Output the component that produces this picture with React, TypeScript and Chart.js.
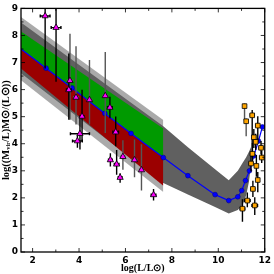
import React, { useEffect, useRef } from 'react';
import { Chart, registerables } from 'chart.js';
Chart.register(...registerables);

// Model (blue) curve
const modelX = [1.5, 2.58, 3.7, 5.11, 6.24, 7.63, 8.69, 9.86, 10.45, 10.84, 11.01, 11.17, 11.34, 11.53, 11.73, 11.9];
const modelY = [7.5, 6.79, 6.06, 5.12, 4.38, 3.49, 2.82, 2.12, 1.9, 2.04, 2.27, 2.64, 3.0, 3.55, 4.1, 4.62];

// Left shaded bands (x from 1.5 to 7.63)
const bandX = [1.5, 7.63];
const lightHigh = [8.68, 4.88];
const lightLow = [6.35, 2.22];
const greenHigh = [8.15, 4.56];
const redLow = [6.78, 2.45];
const bandMid = [7.5, 3.49];

// Dark gray model band
const darkX = [1.5, 7.63, 8.69, 9.86, 10.45, 10.84, 11.05, 11.2, 11.32, 11.42];
const darkHigh = [8.48, 4.65, 3.87, 3.06, 2.65, 3.0, 3.3, 3.5, 3.7, 3.9];
const darkLow = [6.6, 2.55, 2.12, 1.66, 1.42, 1.55, 1.75, 2.1, 2.6, 3.3];

// Magenta triangles
const magX = [2.54, 3.01, 3.61, 3.56, 3.87, 4.45, 4.13, 4.04, 3.93, 5.13, 5.33, 5.58, 5.35, 5.62, 5.89, 5.77, 6.39, 6.69, 7.21];
const magY = [8.72, 8.29, 6.33, 5.99, 5.71, 5.62, 5.01, 4.37, 4.1, 5.77, 5.34, 4.43, 3.4, 3.24, 3.52, 2.75, 3.4, 3.03, 2.11];
const magUp = [1.0, 1.0, 1.73, 1.34, 1.89, 1.47, 0.98, 0.64, 0.2, 1.62, 0.4, 0.58, 0.25, 0.53, 0.61, 0.16, 0.76, 0.95, 0.22];
const magDown = [1.94, 2.0, 1.44, 1.1, 1.0, 0.91, 0.9, 0.58, 0.25, 1.37, 0.4, 0.52, 0.24, 0.39, 0.48, 0.19, 0.64, 0.76, 0.21];
const magXErr = [0.21, 0.21, 0.12, 0.1, 0.1, 0.1, 0.08, 0.41, 0.21, 0.1, 0.1, 0.12, 0.08, 0.1, 0.08, 0.08, 0.1, 0.08, 0.1];
const magBarGray = [0, 0, 1, 0, 1, 1, 0, 0, 0, 1, 0, 0, 0, 0, 1, 0, 1, 1, 0];

// Orange squares
const orgX = [11.13, 11.2, 11.46, 11.7, 11.53, 11.84, 11.61, 11.47, 11.87, 11.64, 11.41, 11.7, 11.49, 11.25, 11.57, 11.04];
const orgY = [5.39, 4.83, 5.05, 4.67, 4.24, 3.85, 4.07, 3.63, 3.49, 3.18, 3.27, 2.66, 2.33, 1.9, 1.72, 1.6];
const orgUp = [0.1, 0.1, 0.2, 0.35, 0.3, 0.25, 0.3, 0.4, 0.25, 0.4, 0.3, 0.3, 0.3, 0.3, 0.3, 0.35];
const orgDown = [0.55, 0.55, 1.5, 0.6, 0.4, 0.25, 0.3, 0.3, 0.2, 0.4, 0.3, 0.45, 0.3, 0.25, 0.35, 0.48];
const orgXErr = [0, 0, 0.08, 0.08, 0, 0.08, 0, 0.08, 0.08, 0, 0.08, 0, 0.08, 0.12, 0.12, 0.1];
const orgBarGray = [1, 1, 0, 0, 0, 0, 0, 0, 0, 0, 0, 0, 0, 0, 0, 0];

const xTicks = [2, 4, 6, 8, 10, 12];
const yTicks = [0, 1, 2, 3, 4, 5, 6, 7, 8, 9];

const pts = (xs: number[], ys: number[]) => xs.map((x, i) => ({ x, y: ys[i] }));

const errorBarPlugin = {
  id: 'errbars',
  beforeDatasetDraw(chart: any, args: any) {
    const ds = chart.data.datasets[args.index] as any;
    const e = ds.errors;
    if (!e) return;
    const { ctx, chartArea, scales } = chart;
    const sx = scales.x, sy = scales.y;
    ctx.save();
    ctx.beginPath();
    ctx.rect(chartArea.left, chartArea.top, chartArea.right - chartArea.left, chartArea.bottom - chartArea.top);
    ctx.clip();
    ctx.lineWidth = 1.4;
    for (let i = 0; i < e.x.length; i++) {
      ctx.strokeStyle = e.gray[i] ? '#555555' : '#000000';
      const px = sx.getPixelForValue(e.x[i]);
      const py = sy.getPixelForValue(e.y[i]);
      const top = sy.getPixelForValue(e.y[i] + e.up[i]);
      const bot = sy.getPixelForValue(e.y[i] - e.down[i]);
      ctx.beginPath();
      ctx.moveTo(px, top);
      ctx.lineTo(px, bot);
      ctx.stroke();
      if (e.xerr[i] > 0) {
        const l = sx.getPixelForValue(e.x[i] - e.xerr[i]);
        const r = sx.getPixelForValue(e.x[i] + e.xerr[i]);
        ctx.beginPath();
        ctx.moveTo(l, py);
        ctx.lineTo(r, py);
        ctx.moveTo(l, py - 1.5);
        ctx.lineTo(l, py + 1.5);
        ctx.moveTo(r, py - 1.5);
        ctx.lineTo(r, py + 1.5);
        ctx.stroke();
      }
    }
    ctx.restore();
  },
};

const framePlugin = {
  id: 'frame',
  afterDraw(chart: any) {
    const { ctx, chartArea: a, scales } = chart;
    const sx = scales.x, sy = scales.y;
    ctx.save();
    ctx.strokeStyle = '#000';
    ctx.lineWidth = 1.3;
    ctx.strokeRect(a.left, a.top, a.right - a.left, a.bottom - a.top);
    ctx.lineWidth = 0.8;
    ctx.beginPath();
    for (let v = 2; v <= 12; v += 1) {
      const px = sx.getPixelForValue(v);
      const len = v % 2 === 0 ? 4 : 2.5;
      ctx.moveTo(px, a.bottom);
      ctx.lineTo(px, a.bottom - len);
      ctx.moveTo(px, a.top);
      ctx.lineTo(px, a.top + len);
    }
    for (let v = 0; v <= 9; v += 0.5) {
      const py = sy.getPixelForValue(v);
      const len = Number.isInteger(v) ? 4 : 2.5;
      ctx.moveTo(a.left, py);
      ctx.lineTo(a.left + len, py);
      ctx.moveTo(a.right, py);
      ctx.lineTo(a.right - len, py);
    }
    ctx.stroke();
    ctx.restore();
  },
};

export default function App() {
  const ref = useRef<HTMLCanvasElement>(null);
  useEffect(() => {
    document.body.style.margin = '0';
    const canvas = ref.current!;
    const tickFont = { family: 'DejaVu Sans', size: 9, weight: 'bold' as const };
    const titleFont = { family: 'Liberation Serif', size: 10, weight: 'bold' as const };
    const chart = new Chart(canvas, {
      type: 'line',
      data: {
        datasets: [
          {
            data: pts(orgX, orgY),
            showLine: false,
            pointStyle: 'rect',
            pointRadius: 3.3,
            pointBackgroundColor: '#ffa500',
            pointBorderColor: '#000',
            pointBorderWidth: 0.8,
            errors: { x: orgX, y: orgY, up: orgUp, down: orgDown, xerr: orgXErr, gray: orgBarGray },
          } as any,
          {
            data: pts(magX, magY),
            showLine: false,
            pointStyle: 'triangle',
            pointRadius: 3.6,
            pointBackgroundColor: '#ff00ff',
            pointBorderColor: '#000',
            pointBorderWidth: 0.8,
            errors: { x: magX, y: magY, up: magUp, down: magDown, xerr: magXErr, gray: magBarGray },
          } as any,
          {
            data: pts(modelX, modelY),
            borderColor: '#0000ff',
            borderWidth: 1.2,
            pointRadius: modelX.map((_, i) => (i === 0 ? 0 : 2.4)),
            pointBackgroundColor: '#0000ff',
            pointBorderColor: '#00008b',
            pointBorderWidth: 0.6,
            fill: false,
          },
          { data: pts(bandX, greenHigh), borderWidth: 0, pointRadius: 0, backgroundColor: '#009a00', fill: 4 },
          { data: pts(bandX, bandMid), borderWidth: 0, pointRadius: 0, backgroundColor: '#9b0000', fill: 5 },
          { data: pts(bandX, redLow), borderWidth: 0, pointRadius: 0, fill: false },
          { data: pts(darkX, darkHigh), borderWidth: 0, pointRadius: 0, backgroundColor: '#606060', fill: 7 },
          { data: pts(darkX, darkLow), borderWidth: 0, pointRadius: 0, fill: false },
          { data: pts(bandX, lightHigh), borderWidth: 0, pointRadius: 0, backgroundColor: '#aaaaaa', fill: 9 },
          { data: pts(bandX, lightLow), borderWidth: 0, pointRadius: 0, fill: false },
        ],
      },
      options: {
        responsive: false,
        animation: false,
        events: [],
        layout: { padding: { top: 6, right: 4, left: 0, bottom: 0 } },
        plugins: { legend: { display: false }, tooltip: { enabled: false } },
        scales: {
          x: {
            type: 'linear',
            min: 1.5,
            max: 12,
            afterBuildTicks: (s: any) => { s.ticks = xTicks.map((v) => ({ value: v })); },
            afterFit: (s: any) => { s.height = 22; },
            grid: { display: false, drawTicks: false },
            border: { display: false },
            ticks: { font: tickFont, color: '#000', padding: 3, maxRotation: 0 },
            title: { display: true, text: 'log(L/L⊙)', font: titleFont, color: '#000', padding: { top: -1, bottom: 0 } },
          },
          y: {
            type: 'linear',
            min: 0,
            max: 9,
            afterBuildTicks: (s: any) => { s.ticks = yTicks.map((v) => ({ value: v })); },
            afterFit: (s: any) => { s.width = 21; },
            grid: { display: false, drawTicks: false },
            border: { display: false },
            ticks: { font: tickFont, color: '#000', padding: 3 },
            title: { display: true, text: 'log((Mᵥᵢᵣ/L)M⊙/(L⊙))', font: { ...titleFont, size: 10.5 }, color: '#000', padding: { top: 0, bottom: 0 } },
          },
        },
      } as any,
      plugins: [errorBarPlugin, framePlugin],
    });
    return () => chart.destroy();
  }, []);
  return (
    <div style={{ width: 274, height: 274 }}>
      <canvas ref={ref} width={274} height={274} />
    </div>
  );
}
